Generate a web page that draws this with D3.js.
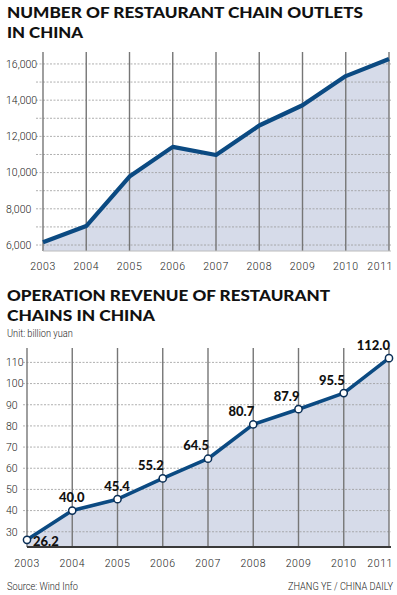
<!DOCTYPE html>
<html>
<head>
<meta charset="utf-8">
<script src="https://cdn.jsdelivr.net/npm/d3@7"></script>
<style>
  body { margin: 0; background: #ffffff; }
  .title { font-family: "Lato", "DejaVu Sans", sans-serif; font-weight: 900; font-size: 15px; fill: #111; }
  .tick-label { font-family: "Liberation Sans Narrow", "Roboto", sans-serif; font-weight: 300; font-size: 10.5px; fill: #222; }
  .year-label { letter-spacing: 0.6px; }
  .note { font-family: "Roboto", sans-serif; font-weight: 300; font-size: 11px; fill: #222; }
  .value { font-family: "Lato", "DejaVu Sans", sans-serif; font-weight: 900; font-size: 13px; fill: #111; }
</style>
</head>
<body>
<div id="app"></div>
<script>
// data
let years = ["2003", "2004", "2005", "2006", "2007", "2008", "2009", "2010", "2011"];
let outlets = [6150, 7050, 9780, 11420, 10970, 12600, 13720, 15330, 16270];
let revenue = [26.2, 40.0, 45.4, 55.2, 64.5, 80.7, 87.9, 95.5, 112.0];
let outletTicks = [6000, 8000, 10000, 12000, 14000, 16000];
let outletGrid = [6000, 7000, 8000, 9000, 10000, 11000, 12000, 13000, 14000, 15000, 16000];
let revenueTicks = [30, 40, 50, 60, 70, 80, 90, 100, 110];

let width = 397,
  height = 595;

let lineColor = "#0b4a82",
  fillColor = "#d6dbe9";

let svg = d3
  .select("#app")
  .append("svg")
  .attr("width", width)
  .attr("height", height)
  .attr("style", "background-color:#ffffff");

function title(lines, y0, widths) {
  lines.forEach((t, i) => {
    svg
      .append("text")
      .attr("class", "title")
      .attr("x", 7)
      .attr("y", y0 + i * 20)
      .attr("textLength", widths[i])
      .attr("lengthAdjust", "spacingAndGlyphs")
      .text(t);
  });
}

// small condensed notes, squeezed horizontally
function note(t, x, y, anchor) {
  svg
    .append("text")
    .attr("class", "note")
    .attr("transform", "translate(" + x + "," + y + ") scale(0.84,1)")
    .attr("text-anchor", anchor || "start")
    .text(t);
}

function chart(opts) {
  let x = d3.scalePoint().domain(years).range(opts.xRange);
  let y = d3.scaleLinear().domain(opts.yDomain).range(opts.yRange);
  let g = svg.append("g");

  // area fill
  g.append("path")
    .datum(opts.values)
    .attr(
      "d",
      d3
        .area()
        .x((d, i) => x(years[i]))
        .y0(opts.yRange[0])
        .y1((d) => y(d))
    )
    .attr("fill", fillColor);

  // dashed grid lines
  g.append("g")
    .selectAll("line")
    .data(opts.grid)
    .enter()
    .append("line")
    .attr("x1", opts.gridStart)
    .attr("x2", opts.xRange[1] + 2)
    .attr("y1", (d) => y(d))
    .attr("y2", (d) => y(d))
    .style("stroke", "#9a9a9a")
    .style("stroke-width", "0.8")
    .style("stroke-dasharray", "2, 1.5");

  // vertical year lines
  g.append("g")
    .selectAll("line")
    .data(years)
    .enter()
    .append("line")
    .attr("x1", (d) => x(d))
    .attr("x2", (d) => x(d))
    .attr("y1", opts.yRange[1])
    .attr("y2", opts.yRange[0])
    .style("stroke", "#767676")
    .style("stroke-width", "1.4");

  // bottom edge
  g.append("line")
    .attr("x1", x(years[0]))
    .attr("x2", opts.xRange[1] + 2)
    .attr("y1", opts.yRange[0])
    .attr("y2", opts.yRange[0])
    .style("stroke", opts.baseColor)
    .style("stroke-width", opts.baseWidth);

  // y labels
  g.append("g")
    .attr("transform", "translate(6,0)")
    .call(d3.axisRight(y).tickValues(opts.ticks).tickSize(0).tickPadding(0).tickFormat(opts.format))
    .call((a) => a.select(".domain").remove())
    .selectAll("text")
    .attr("class", "tick-label")
    .attr("fill", null)
    .attr("font-size", null)
    .attr("font-family", null);

  // x labels
  g.append("g")
    .selectAll("text")
    .data(years)
    .enter()
    .append("text")
    .attr("class", "tick-label year-label")
    .attr("x", (d, i) => (i == years.length - 1 ? width - 4 : x(d)))
    .attr("y", opts.xLabelY)
    .attr("text-anchor", (d, i) => (i == years.length - 1 ? "end" : "middle"))
    .text((d) => d);

  // line
  g.append("path")
    .datum(opts.values)
    .attr(
      "d",
      d3
        .line()
        .x((d, i) => x(years[i]))
        .y((d) => y(d))
    )
    .attr("fill", "none")
    .attr("stroke", lineColor)
    .attr("stroke-width", opts.lineWidth)
    .attr("stroke-linejoin", "round");

  return { g: g, x: x, y: y };
}

// chart 1: outlets
title(["NUMBER OF RESTAURANT CHAIN OUTLETS", "IN CHINA"], 17.5, [356, 76]);

chart({
  values: outlets,
  xRange: [43, 389],
  yDomain: [5670, 16660],
  yRange: [251, 52],
  grid: outletGrid,
  ticks: outletTicks,
  format: d3.format(","),
  gridStart: 36,
  xLabelY: 270,
  lineWidth: 4.2,
  baseColor: "#bcbcbc",
  baseWidth: 1
});

// chart 2: revenue
title(["OPERATION REVENUE OF RESTAURANT", "CHAINS IN CHINA"], 300.5, [323, 148]);

note("Unit: billion yuan", 7, 337);

let c2 = chart({
  values: revenue,
  xRange: [27, 389],
  yDomain: [22.8, 116.8],
  yRange: [547, 348],
  grid: revenueTicks,
  ticks: revenueTicks,
  format: d3.format("d"),
  gridStart: 23,
  xLabelY: 567,
  lineWidth: 3.6,
  baseColor: "#3a3a3a",
  baseWidth: 2
});

c2.g
  .append("g")
  .selectAll("circle")
  .data(revenue)
  .enter()
  .append("circle")
  .attr("cx", (d, i) => c2.x(years[i]))
  .attr("cy", (d) => c2.y(d))
  .attr("r", 3.6)
  .attr("fill", "#ffffff")
  .attr("stroke", "#0a2f57")
  .attr("stroke-width", 1.5);

// value labels: first one below right, next two centred, rest to the left
c2.g
  .append("g")
  .selectAll("text")
  .data(revenue)
  .enter()
  .append("text")
  .attr("class", "value")
  .attr("x", (d, i) => c2.x(years[i]) + (i == 0 ? 6 : i < 3 ? -0.5 : 1))
  .attr("y", (d, i) => c2.y(d) + (i == 0 ? 6 : -8.5))
  .attr("text-anchor", (d, i) => (i == 0 ? "start" : i < 3 ? "middle" : "end"))
  .text((d) => d3.format(".1f")(d));

// footer
note("Source: Wind Info", 7, 590);
note("ZHANG YE / CHINA DAILY", 393, 590, "end");
</script>
</body>
</html>
